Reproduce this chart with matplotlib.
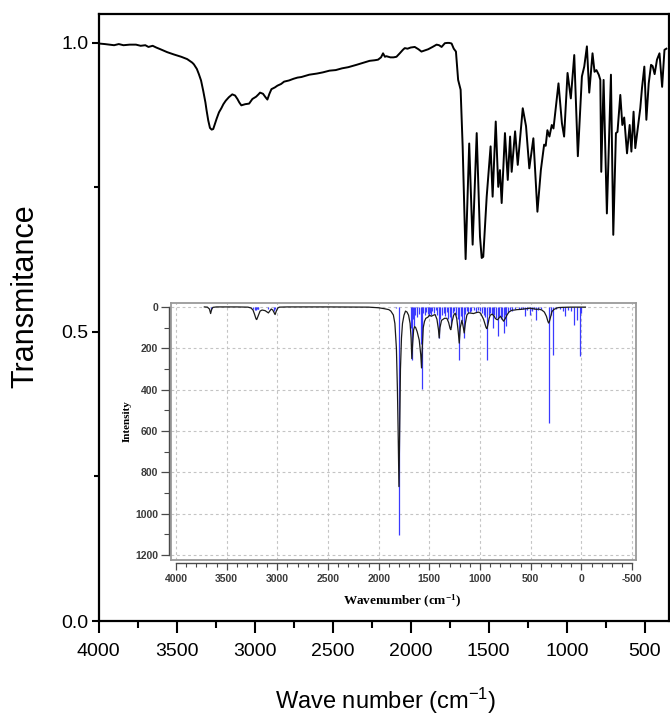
import matplotlib
matplotlib.use('Agg')
import matplotlib.pyplot as plt
from matplotlib import font_manager

plt.rcParams['mathtext.default'] = 'regular'

# ---------------- data: experimental FTIR (main axes) ----------------
ftir_wn = [4000, 3960, 3930, 3900, 3870, 3840, 3800, 3760, 3730, 3700, 3680, 3653, 3630, 3603,
           3560, 3517, 3470, 3432, 3400, 3389, 3370, 3357, 3343, 3329, 3315, 3308, 3297, 3286,
           3275, 3265, 3254, 3243, 3228, 3213, 3200, 3185, 3165, 3143, 3125, 3110, 3098, 3085,
           3060, 3035, 3014, 2990, 2975, 2965, 2946, 2930, 2918, 2905, 2892, 2870, 2854, 2830,
           2811, 2780, 2750, 2725, 2700, 2650, 2600, 2563, 2520, 2480, 2440, 2400, 2348, 2300,
           2263, 2230, 2209, 2190, 2177, 2165, 2156, 2130, 2110, 2091, 2070, 2050, 2038, 2020,
           2000, 1974, 1950, 1931, 1910, 1888, 1860, 1834, 1818, 1802, 1781, 1765, 1753, 1738,
           1724, 1710, 1696, 1680, 1667, 1648, 1625, 1603, 1577, 1556, 1545, 1535, 1513, 1488,
           1475, 1455, 1439, 1428, 1417, 1396, 1378, 1363, 1353, 1331, 1314, 1282, 1261, 1240,
           1214, 1188, 1166, 1145, 1135, 1124, 1111, 1096, 1085, 1068, 1053, 1031, 1017, 995,
           974, 952, 929, 903, 888, 871, 856, 835, 822, 810, 795, 785, 779, 764, 743, 717, 702,
           685, 675, 657, 644, 632, 614, 597, 586, 572, 561, 546, 529, 518, 503, 490, 475, 460,
           450, 437, 422, 406, 389, 374, 362]
ftir_t = [0.999, 0.998, 0.997, 0.996, 0.998, 0.996, 0.997, 0.997, 0.995, 0.996, 0.993, 0.995, 0.992, 0.989,
          0.984, 0.980, 0.976, 0.972, 0.966, 0.963, 0.955, 0.946, 0.935, 0.917, 0.897, 0.884, 0.866, 0.853,
          0.850, 0.851, 0.860, 0.869, 0.880, 0.887, 0.894, 0.900, 0.906, 0.911, 0.909, 0.903, 0.897, 0.892,
          0.894, 0.895, 0.903, 0.907, 0.911, 0.914, 0.912, 0.906, 0.902, 0.912, 0.920, 0.923, 0.926, 0.929,
          0.933, 0.935, 0.938, 0.940, 0.941, 0.945, 0.947, 0.949, 0.952, 0.953, 0.956, 0.958, 0.962, 0.966,
          0.969, 0.970, 0.971, 0.975, 0.982, 0.976, 0.977, 0.975, 0.975, 0.976, 0.982, 0.988, 0.991, 0.990,
          0.992, 0.993, 0.989, 0.985, 0.987, 0.989, 0.993, 0.997, 0.996, 0.993, 0.9995, 1.0, 1.0, 0.999,
          0.990, 0.985, 0.936, 0.919, 0.821, 0.626, 0.826, 0.651, 0.844, 0.665, 0.628, 0.630, 0.734, 0.821,
          0.734, 0.864, 0.751, 0.780, 0.723, 0.844, 0.763, 0.838, 0.777, 0.847, 0.789, 0.887, 0.856, 0.783,
          0.835, 0.708, 0.780, 0.824, 0.822, 0.849, 0.838, 0.858, 0.852, 0.893, 0.930, 0.861, 0.838, 0.948,
          0.904, 0.979, 0.804, 0.942, 0.959, 0.994, 0.914, 0.982, 0.950, 0.953, 0.945, 0.936, 0.777, 0.936, 0.705, 0.945, 0.668,
          0.844, 0.846, 0.910, 0.858, 0.871, 0.809, 0.858, 0.812, 0.881, 0.818, 0.850, 0.887, 0.922, 0.959, 0.867, 0.930, 0.962,
          0.960, 0.946, 0.971, 0.982, 0.924, 0.988, 0.990]

# ---------------- data: calculated spectrum (inset) ----------------
calc_wn = [3720, 3690, 3670, 3658, 3648, 3635, 3600, 3400, 3290, 3260, 3240, 3225, 3210, 3203,
           3190, 3170, 3150, 3120, 3100, 3088, 3075, 3060, 3045, 3030, 3022, 3010, 2995, 2980,
           2900, 2500, 2100, 2002, 1950, 1900, 1880, 1855, 1840, 1825, 1815, 1808, 1800, 1795,
           1790, 1785, 1775, 1765, 1750, 1735, 1720, 1705, 1690, 1680, 1673, 1665, 1655, 1645,
           1635, 1620, 1600, 1585, 1577, 1570, 1560, 1548, 1535, 1515, 1500, 1480, 1460, 1443,
           1425, 1410, 1403, 1395, 1380, 1365, 1350, 1327, 1310, 1295, 1288, 1275, 1260, 1245,
           1230, 1215, 1205, 1195, 1179, 1168, 1156, 1145, 1130, 1113, 1090, 1064, 1040, 1015,
           995, 980, 965, 950, 940, 932, 924, 910, 899, 880, 860, 850, 838, 827, 815, 800, 785,
           768, 755, 735, 715, 700, 685, 660, 636, 600, 570, 540, 504, 470, 440, 422, 390, 365,
           345, 330, 323, 315, 300, 290, 270, 240, 224, 180, 109, 60, 20, -40]
calc_i = [0, 1, 10, 32, 12, 2, 0, 0, 1, 5, 15, 35, 58, 61,
          45, 20, 15, 18, 25, 29, 20, 10, 15, 30, 37, 20, 5, 1,
          0, 0, 1, 4, 8, 13, 20, 39, 80, 200, 400, 600, 869, 700,
          500, 300, 150, 80, 40, 20, 25, 40, 80, 150, 250, 180, 110, 95,
          100, 120, 160, 230, 295, 200, 100, 70, 55, 50, 40, 45, 40, 37,
          60, 110, 150, 100, 65, 60, 55, 55, 75, 105, 110, 70, 40, 30,
          55, 120, 175, 100, 65, 90, 126, 80, 40, 29, 30, 32, 28, 25,
          30, 45, 60, 85, 100, 105, 90, 55, 40, 35, 45, 55, 60, 62, 55, 45, 55,
          69, 60, 40, 25, 20, 16, 15, 13, 12, 10, 8, 6, 9, 12, 10, 15, 25,
          45, 70, 78, 70, 40, 22, 12, 5, 3, 2, 1, 1, 1, 1]

stick_wn = [3658, 3236, 3225, 3213, 3203, 3195, 3186, 3088, 3029, 3020, 1830, 1798,
            1683, 1673, 1660, 1650, 1640, 1625, 1600, 1585, 1571, 1560, 1545, 1530, 1515,
            1505, 1495, 1485, 1470, 1450, 1435, 1420, 1403, 1390, 1375, 1360, 1345, 1330,
            1315, 1300, 1288, 1270, 1255, 1240, 1220, 1205, 1190, 1175, 1163, 1145, 1130,
            1115, 1100, 1085, 1060, 1040, 1020, 1000, 985, 965, 950, 932, 915, 900, 885,
            873, 860, 845, 827, 810, 795, 780, 768, 755, 740, 720, 700, 680, 650, 620, 600,
            580, 554, 535, 511, 490, 470, 449, 430, 400, 320, 300, 284, 250, 210, 180, 159,
            130, 100, 76, 43, 17, 5]
stick_i = [16, 10, 14, 15, 12, 10, 8, 10, 22, 12, 5, 1103,
           100, 255, 60, 90, 40, 50, 35, 180, 397, 30, 40, 25, 35,
           45, 30, 40, 20, 30, 15, 40, 150, 60, 40, 30, 45, 25,
           60, 50, 95, 30, 20, 40, 60, 255, 45, 70, 150, 35, 20,
           30, 25, 20, 15, 25, 15, 20, 30, 40, 50, 255, 40, 30, 35,
           102, 40, 55, 142, 45, 60, 50, 126, 40, 94, 25, 15, 20, 10, 8, 12,
           10, 45, 15, 40, 20, 12, 61, 15, 10, 562, 40, 234, 10, 12, 20, 45,
           15, 20, 86, 61, 236, 30]

main_xticks = [4000, 3500, 3000, 2500, 2000, 1500, 1000, 500]
main_xminor = [3750, 3250, 2750, 2250, 1750, 1250, 750]
main_yticks = [0.0, 0.5, 1.0]
main_yminor = [0.25, 0.75]
inset_xticks = [4000, 3500, 3000, 2500, 2000, 1500, 1000, 500, 0, -500]
inset_yticks = [0, 200, 400, 600, 800, 1000, 1200]

# ---------------- fonts ----------------
names = {f.name for f in font_manager.fontManager.ttflist}
if 'Liberation Sans Narrow' in names:
    tick_family, tick_size = 'Liberation Sans Narrow', 16.5
else:
    tick_family, tick_size = 'Liberation Sans', 14

W, H = 670, 719
fig = plt.figure(figsize=(W / 100, H / 100), dpi=100)


def rect(l, t, r, b):
    return [l / W, 1 - b / H, (r - l) / W, (b - t) / H]


# ---------------- main axes ----------------
ax = fig.add_axes(rect(98.5, 14, 669, 621))
ax.plot(ftir_wn, ftir_t, color='black', lw=1.4)
ax.set_xlim(4000, 345)
ax.set_ylim(0, 1.05)
for s in ax.spines.values():
    s.set_linewidth(1.6)
ax.set_xticks(main_xticks, labels=[str(v) for v in main_xticks],
              fontfamily=tick_family, fontsize=tick_size)
ax.set_xticks(main_xminor, minor=True)
ax.set_yticks(main_yticks, labels=['%.1f' % v for v in main_yticks],
              fontfamily=tick_family, fontsize=tick_size)
ax.set_yticks(main_yminor, minor=True)
ax.tick_params(axis='x', which='major', direction='out', length=8.6, width=1.5, pad=7)
ax.tick_params(axis='x', which='minor', direction='out', length=5, width=1.5)
ax.tick_params(axis='y', which='major', direction='out', length=5.3, width=1.5, pad=2)
ax.tick_params(axis='y', which='minor', direction='out', length=3.5, width=1.5)

fig.text(25 / W, 1 - 296 / H, 'Transmitance', rotation=90, ha='center', va='center',
         fontsize=22, family='Liberation Sans')
fig.text(386 / W, 1 - 701 / H, 'Wave number (cm$^{-1}$)', ha='center', va='center',
         fontsize=17, family='Liberation Sans')

# ---------------- inset ----------------
ins = fig.add_axes(rect(171, 303, 636, 560))
ins.set_xlim(4049, -539)
ins.set_ylim(1224, -19)
ins.vlines(stick_wn, 0, stick_i, color='#3a3aff', lw=0.9, zorder=2)
ins.plot(calc_wn, calc_i, color='#1a1a1a', lw=0.9, zorder=3)
ins.set_xticks(inset_xticks)
ins.set_yticks(inset_yticks)
ins.grid(True, color='#c4c4c4', ls=(0, (2.5, 2.5)), lw=0.8)
ins.tick_params(left=False, bottom=False, labelleft=False, labelbottom=False)
for s in ins.spines.values():
    s.set_color('#9a9a9a')
    s.set_linewidth(1.3)

axa = fig.add_axes(rect(171, 303, 636, 560), facecolor='none')
axa.set_xlim(4049, -539)
axa.set_ylim(1224, -19)
axa.spines['top'].set_visible(False)
axa.spines['right'].set_visible(False)
axa.spines['left'].set_position(('outward', 1.2))
axa.spines['bottom'].set_position(('outward', 1.9))
axa.spines['left'].set_bounds(0, 1200)
axa.spines['bottom'].set_bounds(-500, 4000)
for k in ('left', 'bottom'):
    axa.spines[k].set_color('#4a4a4a')
    axa.spines[k].set_linewidth(1.0)
axa.set_xticks(inset_xticks, labels=[str(v) for v in inset_xticks],
               fontfamily='Liberation Sans', fontsize=7.5, fontweight='bold', color='#3a3a3a')
axa.set_xticks(range(-500, 4001, 100), minor=True)
axa.set_yticks(inset_yticks, labels=[str(v) for v in inset_yticks],
               fontfamily='Liberation Sans', fontsize=7.5, fontweight='bold', color='#3a3a3a')
axa.set_yticks(range(100, 1200, 200), minor=True)
axa.tick_params(axis='x', which='major', direction='out', length=5, width=0.9, color='#4a4a4a', pad=3)
axa.tick_params(axis='x', which='minor', direction='out', length=3, width=0.8, color='#4a4a4a')
axa.tick_params(axis='y', which='major', direction='out', length=5.5, width=0.9, color='#4a4a4a', pad=2.5)
axa.tick_params(axis='y', which='minor', direction='out', length=3.5, width=0.8, color='#4a4a4a')

fig.text(127 / W, 1 - 421 / H, 'Intensity', rotation=90, ha='center', va='center',
         fontsize=8, fontweight='bold', family='Liberation Serif')
fig.text(402 / W, 1 - 601 / H, 'Wavenumber (cm$^{-1}$)', ha='center', va='center',
         fontsize=9.5, fontweight='bold', family='Liberation Serif')

fig.savefig('out.png', dpi=100)
